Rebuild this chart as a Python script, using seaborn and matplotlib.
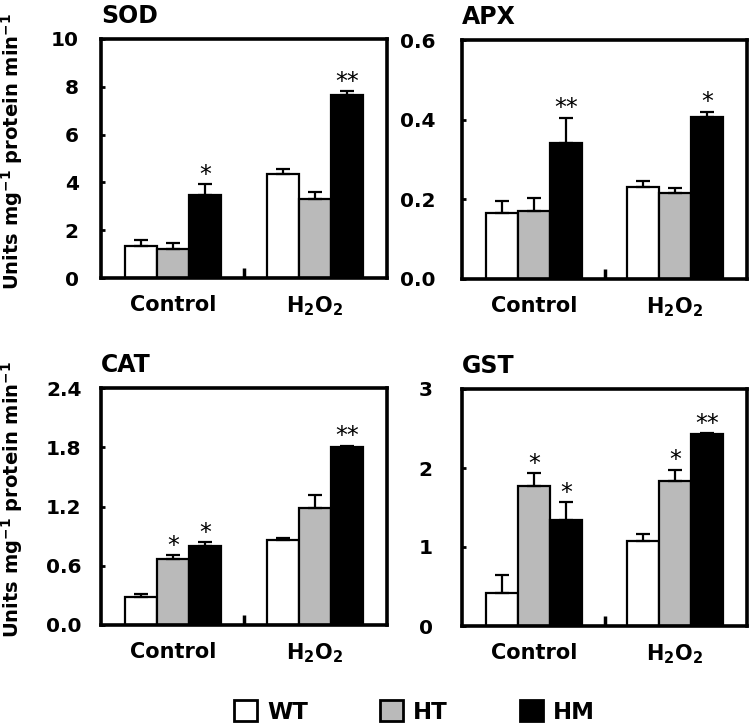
import matplotlib
matplotlib.use("Agg")
import matplotlib.pyplot as plt
import seaborn as sns
import pandas as pd
from matplotlib.patches import Patch
from matplotlib.ticker import FixedLocator

sns.set_style("white")
plt.rcParams['font.family'] = ['DejaVu Sans']
plt.rcParams['font.weight'] = 'bold'
plt.rcParams['text.color'] = 'black'
plt.rcParams['axes.labelcolor'] = 'black'
plt.rcParams['xtick.color'] = 'black'
plt.rcParams['ytick.color'] = 'black'
plt.rcParams['mathtext.fontset'] = 'custom'
plt.rcParams['mathtext.rm'] = 'DejaVu Sans:bold'
plt.rcParams['mathtext.bf'] = 'DejaVu Sans:bold'
plt.rcParams['mathtext.it'] = 'DejaVu Sans:bold'

groups = ["Control", "H2O2"]
genotypes = ["WT", "HT", "HM"]
group_labels = ["Control", r"H$_\mathbf{2}$O$_\mathbf{2}$"]

# values per genotype: [Control, H2O2]
sod_mean = {"WT": [1.33, 4.36], "HT": [1.22, 3.29], "HM": [3.47, 7.64]}
sod_err = {"WT": [0.25, 0.21], "HT": [0.25, 0.32], "HM": [0.45, 0.18]}
sod_star = {"WT": ["", ""], "HT": ["", ""], "HM": ["*", "**"]}

apx_mean = {"WT": [0.165, 0.232], "HT": [0.170, 0.216], "HM": [0.342, 0.406]}
apx_err = {"WT": [0.030, 0.013], "HT": [0.033, 0.013], "HM": [0.063, 0.014]}
apx_star = {"WT": ["", ""], "HT": ["", ""], "HM": ["**", "*"]}

cat_mean = {"WT": [0.286, 0.86], "HT": [0.667, 1.18], "HM": [0.80, 1.80]}
cat_err = {"WT": [0.024, 0.016], "HT": [0.041, 0.14], "HM": [0.04, 0.017]}
cat_star = {"WT": ["", ""], "HT": ["*", ""], "HM": ["*", "**"]}

gst_mean = {"WT": [0.414, 1.077], "HT": [1.774, 1.83], "HM": [1.34, 2.43]}
gst_err = {"WT": [0.232, 0.083], "HT": [0.166, 0.15], "HM": [0.23, 0.01]}
gst_star = {"WT": ["", ""], "HT": ["*", "*"], "HM": ["*", "**"]}

panels = [
    ("SOD", sod_mean, sod_err, sod_star, (0, 10), [0, 2, 4, 6, 8, 10], ["0", "2", "4", "6", "8", "10"]),
    ("APX", apx_mean, apx_err, apx_star, (0, 0.6), [0, 0.2, 0.4, 0.6], ["0.0", "0.2", "0.4", "0.6"]),
    ("CAT", cat_mean, cat_err, cat_star, (0, 2.4), [0, 0.6, 1.2, 1.8, 2.4], ["0.0", "0.6", "1.2", "1.8", "2.4"]),
    ("GST", gst_mean, gst_err, gst_star, (0, 3), [0, 1, 2, 3], ["0", "1", "2", "3"]),
]

W, H = 752, 727
rects = [
    (101, 39, 286, 239),
    (462, 40, 285, 239),
    (101, 388, 286, 237),
    (462, 389, 285, 237),
]
ypads = [16, 19, 14, 21]

colors = {"WT": "#ffffff", "HT": "#bababa", "HM": "#000000"}

fig = plt.figure(figsize=(W / 100, H / 100), dpi=100)

for i, (name, mean, err, star, ylim, yt, ytl) in enumerate(panels):
    l, t, w, h = rects[i]
    ax = fig.add_axes([l / W, (H - t - h) / H, w / W, h / H])
    rows = []
    for g in genotypes:
        for j, grp in enumerate(groups):
            rows.append({"group": grp, "genotype": g, "value": mean[g][j]})
    df = pd.DataFrame(rows)
    sns.barplot(data=df, x="group", y="value", hue="genotype", order=groups,
                hue_order=genotypes, palette=colors, edgecolor="black",
                linewidth=1.6, width=0.68, errorbar=None, legend=False, ax=ax,
                saturation=1)
    for cont, g in zip(ax.containers, genotypes):
        for j, bar in enumerate(cont):
            xc = bar.get_x() + bar.get_width() / 2
            hgt = bar.get_height()
            e = err[g][j]
            ax.errorbar([xc], [hgt], yerr=[[0], [e]], fmt="none", ecolor="black",
                        elinewidth=1.6, capsize=4.7, capthick=1.6, zorder=1)
            s = star[g][j]
            if s:
                ax.annotate(s, (xc, hgt + e), xytext=(0, -2), textcoords="offset points",
                            ha="center", va="bottom", fontsize=17, fontweight="normal",
                            color="black")
    ax.set_xlim(-0.512, 1.512)
    ax.set_ylim(*ylim)
    ax.set_yticks(yt)
    ax.set_yticklabels(ytl)
    ax.set_xticks([0, 1])
    ax.set_xticklabels(group_labels)
    ax.xaxis.set_minor_locator(FixedLocator([0.5]))
    ax.tick_params(axis="x", which="major", length=0, pad=12, labelsize=15, labelcolor="black")
    ax.tick_params(axis="x", which="minor", direction="in", length=7, width=2.5, bottom=True,
                   color="black")
    ax.tick_params(axis="y", which="major", direction="in", length=3, width=2,
                   pad=ypads[i], labelsize=14.5, left=True, color="black", labelcolor="black")
    for lab in ax.get_xticklabels() + ax.get_yticklabels():
        lab.set_fontweight("bold")
    for sp in ax.spines.values():
        sp.set_visible(True)
        sp.set_linewidth(2.6)
        sp.set_color("black")
    ax.set_xlabel("")
    if i % 2 == 0:
        ax.set_ylabel(r"Units mg$^{\mathbf{-1}}$ protein min$^{\mathbf{-1}}$",
                      fontsize=14, fontweight="bold", color="black")
        ax.yaxis.set_label_coords(-0.266, 0.53)
    else:
        ax.set_ylabel("")
    ax.text(0.0, 1 + 16 / h, name, transform=ax.transAxes, ha="left", va="baseline",
            fontsize=17, fontweight="bold", color="black")

handles = [Patch(facecolor=colors[g], edgecolor="black", linewidth=2) for g in genotypes]
leg = fig.legend(handles, genotypes, loc="center", bbox_to_anchor=(0.551, (H - 712) / H),
                 ncol=3, frameon=False, handlelength=1.0, handleheight=1.0,
                 handletextpad=0.43, columnspacing=3.15,
                 prop={"size": 16.5, "weight": "bold"})
for txt in leg.get_texts():
    txt.set_color("black")

fig.savefig("out.png", dpi=100)
